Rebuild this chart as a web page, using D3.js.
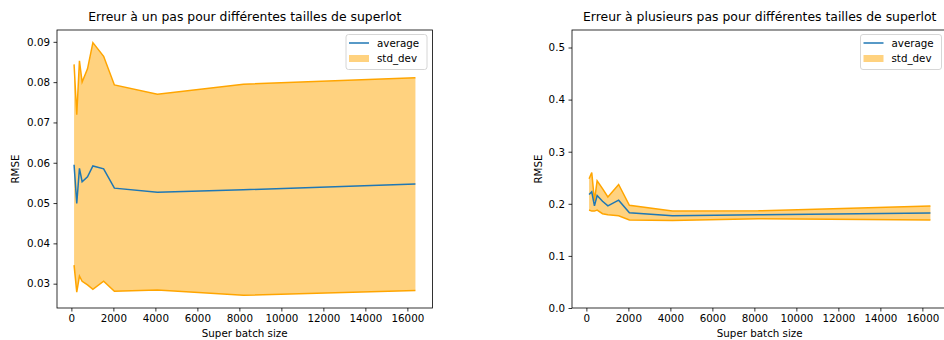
<!DOCTYPE html>
<html><head><meta charset="utf-8">
<script src="https://cdn.jsdelivr.net/npm/d3@7"></script>
<style>
body{margin:0;background:#fff;}
text{font-family:"DejaVu Sans",sans-serif;}
</style>
</head><body>
<svg id="chart" width="944" height="340"></svg>
<script>
// ---- data ----
const superBatchSizes = [128, 256, 384, 512, 768, 1024, 1536, 2048, 4096, 8192, 16384];
const oneStepAverage = [0.0595, 0.0499, 0.0586, 0.0553, 0.0565, 0.0592, 0.0585, 0.0537, 0.0527, 0.0533, 0.0547];
const oneStepStdDev  = [0.0249, 0.0220, 0.0267, 0.0247, 0.0268, 0.0306, 0.0279, 0.0256, 0.0243, 0.0262, 0.0264];
const multiStepAverage = [0.218, 0.223, 0.196, 0.216, 0.205, 0.196, 0.207, 0.183, 0.177, 0.179, 0.1825];
const multiStepStdDev  = [0.030, 0.037, 0.010, 0.028, 0.024, 0.017, 0.030, 0.014, 0.009, 0.0075, 0.0135];
const xTickValues = [0, 2000, 4000, 6000, 8000, 10000, 12000, 14000, 16000];
const oneStepYTicks = [0.03, 0.04, 0.05, 0.06, 0.07, 0.08, 0.09];
const multiStepYTicks = [0.0, 0.1, 0.2, 0.3, 0.4, 0.5];
const titles = ["Erreur à un pas pour différentes tailles de superlot",
                "Erreur à plusieurs pas pour différentes tailles de superlot"];
const xLabel = "Super batch size";
const yLabel = "RMSE";
const legendLabels = ["average", "std_dev"];

const svg = d3.select("#chart");
const BLUE = "#1f77b4", ORANGE = "#ffa500";
const FS = 10.3, TFS = 12.4;

function pad(lo, hi) { const s = hi - lo; return [lo - 0.05 * s, hi + 0.05 * s]; }

function panel(cfg) {
  const {left, top, width, height} = cfg;
  const g = svg.append("g").attr("transform", `translate(${left},${top})`);
  const x = d3.scaleLinear().domain(pad(d3.min(superBatchSizes), d3.max(superBatchSizes))).range([0, width]);
  const y = d3.scaleLinear().domain(cfg.yDomain).range([height, 0]);
  const data = superBatchSizes.map((s, i) => ({s, a: cfg.avg[i], d: cfg.std[i]}));

  const clipId = "clip" + cfg.id;
  g.append("clipPath").attr("id", clipId).append("rect").attr("width", width).attr("height", height);
  const plot = g.append("g").attr("clip-path", `url(#${clipId})`);

  plot.append("path").datum(data)
    .attr("d", d3.area().x(d => x(d.s)).y0(d => y(d.a - d.d)).y1(d => y(d.a + d.d)))
    .attr("fill", ORANGE).attr("fill-opacity", 0.5).attr("stroke", "none");
  plot.append("path").datum(data)
    .attr("d", d3.line().x(d => x(d.s)).y(d => y(d.a + d.d)))
    .attr("fill", "none").attr("stroke", ORANGE).attr("stroke-width", 1.5);
  plot.append("path").datum(data)
    .attr("d", d3.line().x(d => x(d.s)).y(d => y(d.a - d.d)))
    .attr("fill", "none").attr("stroke", ORANGE).attr("stroke-width", 1.5);
  plot.append("path").datum(data)
    .attr("d", d3.line().x(d => x(d.s)).y(d => y(d.a)))
    .attr("fill", "none").attr("stroke", BLUE).attr("stroke-width", 1.5);

  // axes
  const xa = g.append("g").attr("transform", `translate(0,${height})`)
    .call(d3.axisBottom(x).tickValues(xTickValues).tickFormat(d3.format("d")).tickSize(3.5).tickPadding(3.5).tickSizeOuter(0));
  const ya = g.append("g")
    .call(d3.axisLeft(y).tickValues(cfg.yTicks).tickFormat(d3.format(cfg.yFmt)).tickSize(3.5).tickPadding(3.5).tickSizeOuter(0));
  [xa, ya].forEach(a => {
    a.select(".domain").remove();
    a.selectAll("line").attr("stroke", "#000").attr("stroke-width", 0.8);
    a.selectAll("text").attr("font-size", FS).attr("fill", "#000").attr("font-family", "DejaVu Sans, sans-serif");
  });
  // spines
  g.append("rect").attr("width", width).attr("height", height)
    .attr("fill", "none").attr("stroke", "#000").attr("stroke-width", 0.8);

  // title and labels
  g.append("text").attr("x", width / 2).attr("y", -9.5).attr("text-anchor", "middle")
    .attr("font-size", TFS).attr("fill", "#000").text(cfg.title);
  g.append("text").attr("x", cfg.titleCx - left).attr("y", height + 28.8).attr("text-anchor", "middle")
    .attr("font-size", FS).attr("fill", "#000").text(xLabel);
  g.append("text").attr("transform", `translate(${cfg.yLabelX - left},${height / 2}) rotate(-90)`)
    .attr("text-anchor", "middle").attr("dy", "0.35em")
    .attr("font-size", FS).attr("fill", "#000").text(yLabel);

  // legend
  const lw = 81, lh = 35;
  const lg = g.append("g").attr("transform", `translate(${cfg.legendRight - left - lw},${4.5})`);
  lg.append("rect").attr("width", lw).attr("height", lh).attr("rx", 2.5)
    .attr("fill", "#fff").attr("fill-opacity", 0.8).attr("stroke", "#cccccc").attr("stroke-width", 0.8);
  lg.append("line").attr("x1", 3).attr("x2", 23).attr("y1", 8.5).attr("y2", 8.5)
    .attr("stroke", BLUE).attr("stroke-width", 1.5);
  lg.append("rect").attr("x", 3).attr("y", 20.5).attr("width", 20).attr("height", 7)
    .attr("fill", ORANGE).attr("fill-opacity", 0.5);
  lg.selectAll("text.lab").data(legendLabels).enter().append("text")
    .attr("x", 31).attr("y", (d, i) => 8.5 + i * 15.5).attr("dy", "0.35em")
    .attr("font-size", FS).attr("fill", "#000").text(d => d);
}

panel({id: 1, left: 57, top: 30, width: 375.5, height: 278,
  avg: oneStepAverage, std: oneStepStdDev,
  yDomain: pad(d3.min(oneStepAverage.map((a, i) => a - oneStepStdDev[i])), d3.max(oneStepAverage.map((a, i) => a + oneStepStdDev[i]))),
  yTicks: oneStepYTicks, yFmt: ".2f", title: titles[0],
  titleCx: 244.7, yLabelX: 15, legendRight: 427});

panel({id: 2, left: 572, top: 30, width: 375.5, height: 278,
  avg: multiStepAverage, std: multiStepStdDev,
  yDomain: [0, 0.5336],
  yTicks: multiStepYTicks, yFmt: ".1f", title: titles[1],
  titleCx: 759.7, yLabelX: 538, legendRight: 941.5});
</script>
</body></html>
